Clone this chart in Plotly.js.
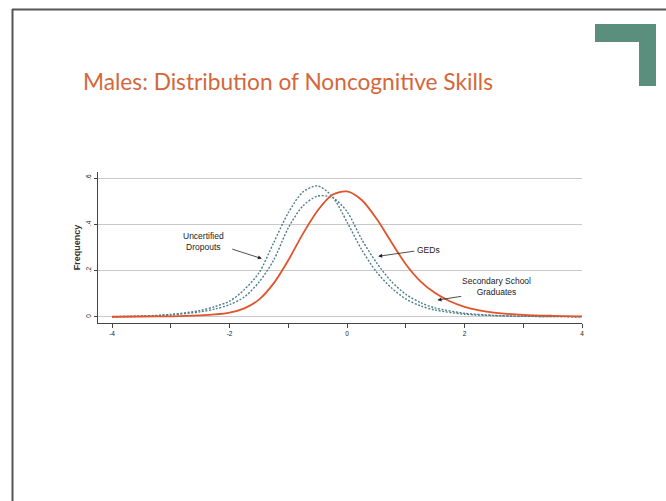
<!DOCTYPE html>
<html>
<head>
<meta charset="utf-8">
<script src="https://cdn.plot.ly/plotly-3.0.1.min.js"></script>
<style>
html,body{margin:0;padding:0;background:#fff;}
#chart{width:666px;height:501px;}
</style>
</head>
<body>
<div id="chart"></div>
<script>
// Data
const gradX = [-4,-3.5,-3,-2.5,-2.25,-2,-1.75,-1.5,-1.25,-1,-0.75,-0.5,-0.25,0,0.25,0.5,0.75,1,1.25,1.5,1.75,2,2.25,2.5,3,3.5,4];
const gradY = [0.001,0.002,0.003,0.007,0.011,0.019,0.037,0.075,0.145,0.245,0.36,0.46,0.528,0.542,0.505,0.425,0.325,0.228,0.154,0.103,0.068,0.044,0.029,0.019,0.009,0.005,0.003];

const dropX = [-4,-3.5,-3,-2.5,-2.25,-2,-1.75,-1.5,-1.25,-1,-0.75,-0.5,-0.25,0,0.25,0.5,0.75,1,1.25,1.5,2,2.5,3,3.5,4];
const dropY = [0.001,0.004,0.011,0.028,0.045,0.068,0.118,0.19,0.32,0.45,0.54,0.566,0.52,0.41,0.29,0.195,0.127,0.078,0.048,0.03,0.012,0.006,0.003,0.002,0.001];

const gedX = [-4,-3.5,-3,-2.5,-2.25,-2,-1.75,-1.5,-1.25,-1,-0.75,-0.5,-0.25,0,0.25,0.5,0.75,1,1.25,1.5,2,2.5,3,4];
const gedY = [0.001,0.003,0.009,0.022,0.034,0.053,0.086,0.15,0.245,0.385,0.48,0.522,0.516,0.455,0.335,0.235,0.155,0.098,0.062,0.039,0.016,0.007,0.003,0.001];

const xTickVals = [-4,-3,-2,-1,0,1,2,3,4];
const xTickText = ['-4','','-2','','0','','2','','4'];
const yTickVals = [0,0.2,0.4,0.6];
const yTickText = ['0','.2','.4','.6'];

const titleText = 'Males: Distribution of Noncognitive Skills';
const yTitle = 'Frequency';
const labelDrop = 'Uncertified<br>Dropouts';
const labelGed = 'GEDs';
const labelGrad = 'Secondary School<br>Graduates';

// layout geometry (pixels)
const L = 98, R = 582, T = 172, B = 323, W = 666, H = 501;
const px = x => (x - L) / (R - L);
const py = y => (B - y) / (B - T);

const dashCol = '#4d7d89';
const traces = [
  {x: dropX, y: dropY, mode: 'lines', line: {color: dashCol, width: 1.4, dash: '2px,1.6px', shape: 'spline', smoothing: 0.8}, hoverinfo: 'skip'},
  {x: gedX, y: gedY, mode: 'lines', line: {color: dashCol, width: 1.4, dash: '2px,1.6px', shape: 'spline', smoothing: 0.8}, hoverinfo: 'skip'},
  {x: gradX, y: gradY, mode: 'lines', line: {color: '#e0532b', width: 1.8, shape: 'spline', smoothing: 0.8}, hoverinfo: 'skip'}
];

const txtFont = {family: 'Liberation Sans, Arial, sans-serif', size: 8.5, color: '#222'};
const arrow = (x, y, ax, ay) => ({x: x, y: y, xref: 'x', yref: 'y', ax: ax, ay: ay, axref: 'x', ayref: 'y', text: '', showarrow: true, arrowhead: 2, arrowsize: 1, arrowwidth: 0.8, arrowcolor: '#222'});

const layout = {
  width: W, height: H,
  margin: {l: L, r: W - R, t: T, b: H - B, pad: 0},
  paper_bgcolor: '#fff', plot_bgcolor: '#fff',
  showlegend: false,
  title: {text: titleText, x: 83 / W, xanchor: 'left', xref: 'container', y: 1 - 82 / H, yanchor: 'middle', yref: 'container',
    font: {family: 'Lato, sans-serif', size: 22.7, color: '#d4673a'}},
  xaxis: {range: [-4.24, 4.0], tickvals: xTickVals, ticktext: xTickText, showgrid: false, zeroline: false,
    showline: true, linecolor: '#444', linewidth: 1, ticks: 'outside', ticklen: 4, tickcolor: '#444',
    tickfont: {family: 'Liberation Sans, Arial, sans-serif', size: 6.5, color: '#222'}, fixedrange: true},
  yaxis: {range: [-0.026, 0.626], tickvals: yTickVals, ticktext: yTickText, tickangle: -90, showgrid: true, gridcolor: '#c9c9c9', gridwidth: 1,
    zeroline: false, showline: true, linecolor: '#444', linewidth: 1, ticks: 'outside', ticklen: 3, tickcolor: '#444',
    tickfont: {family: 'Liberation Sans, Arial, sans-serif', size: 6.5, color: '#222'},
    title: {text: '<b>' + yTitle + '</b>', standoff: 3, font: {family: 'Liberation Sans, Arial, sans-serif', size: 9, color: '#333'}}, fixedrange: true},
  annotations: [
    {x: -2.45, y: 0.325, xref: 'x', yref: 'y', text: labelDrop, showarrow: false, font: txtFont, align: 'center'},
    arrow(-1.45, 0.252, -1.98, 0.295),
    {x: 1.38, y: 0.29, xref: 'x', yref: 'y', text: labelGed, showarrow: false, font: txtFont, align: 'center'},
    arrow(0.53, 0.262, 1.17, 0.285),
    {x: 2.55, y: 0.13, xref: 'x', yref: 'y', text: labelGrad, showarrow: false, font: txtFont, align: 'center'},
    arrow(1.54, 0.073, 1.97, 0.090)
  ],
  shapes: [
    // slide frame
    {type: 'line', xref: 'paper', yref: 'paper', x0: px(12), x1: px(666), y0: py(9.5), y1: py(9.5), line: {color: '#555', width: 2}},
    {type: 'line', xref: 'paper', yref: 'paper', x0: px(12.5), x1: px(12.5), y0: py(9), y1: py(501), line: {color: '#555', width: 2}},
    // green corner mark
    {type: 'rect', xref: 'paper', yref: 'paper', x0: px(595), x1: px(656), y0: py(24), y1: py(42), fillcolor: '#5a8e7d', line: {width: 0}},
    {type: 'rect', xref: 'paper', yref: 'paper', x0: px(639), x1: px(656), y0: py(24), y1: py(86), fillcolor: '#5a8e7d', line: {width: 0}}
  ]
};

Plotly.newPlot('chart', traces, layout, {displayModeBar: false, staticPlot: true});
</script>
</body>
</html>
